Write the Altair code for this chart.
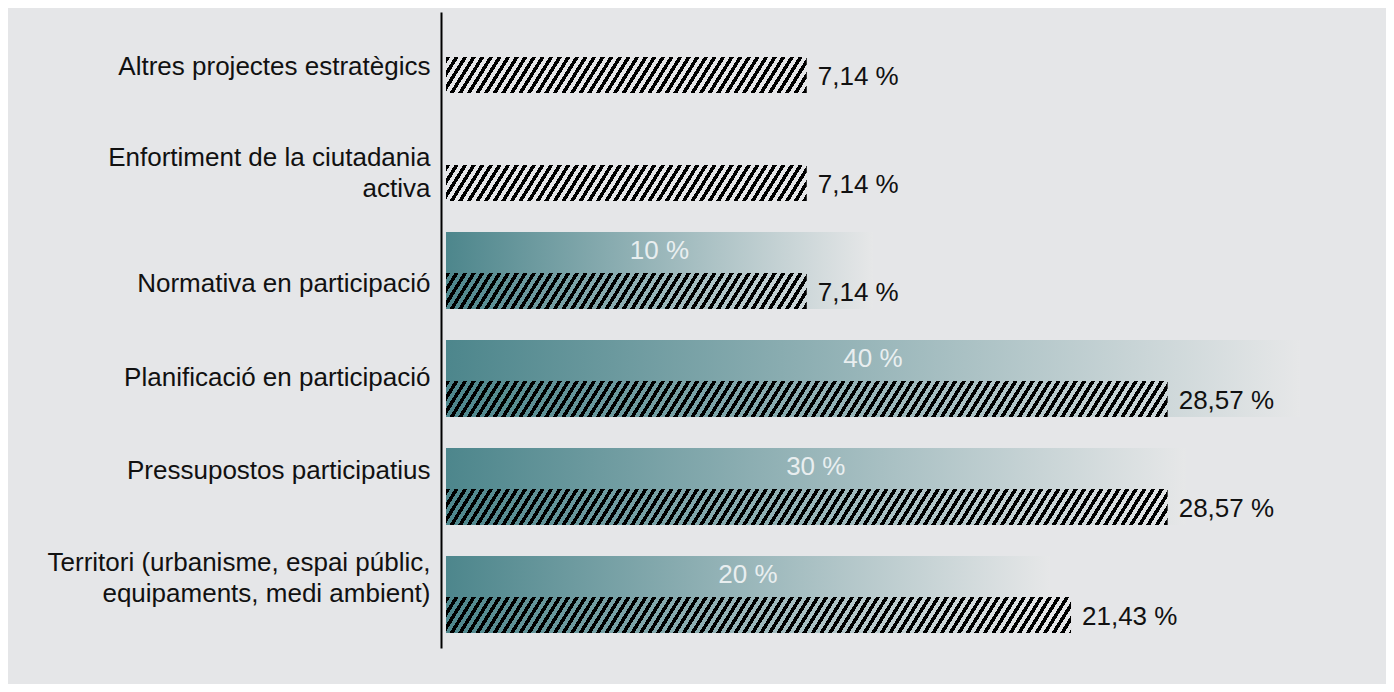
import math
import altair as alt
import pandas as pd

categories = [
    "Altres projectes estratègics",
    "Enfortiment de la ciutadania\nactiva",
    "Normativa en participació",
    "Planificació en participació",
    "Pressupostos participatius",
    "Territori (urbanisme, espai públic,\nequipaments, medi ambient)",
]
shaded = [0, 0, 10, 40, 30, 20]            # gradient series (%)
hatched = [7.14, 7.14, 7.14, 28.57, 28.57, 21.43]  # hatched series (%)

df = pd.DataFrame({"cat": categories, "g": shaded, "h": hatched})

BG = "#e5e6e8"
FONT = "Liberation Sans"
PW, PH = 875, 636
DMAX = 42
HATCH_H = 36
SLANT = 0.62     # horizontal shift per px of height
PERIOD = 8.6     # horizontal stripe period (px)
DUTY = 0.48
CLEAR = "rgba(0,0,0,0)"

xscale = alt.Scale(type="sqrt", domain=[0, DMAX], nice=False, zero=True)
yscale = alt.Scale(domain=categories, paddingInner=0.287, paddingOuter=0.088, align=0.21)

label_shift = {
    "condition": [
        {"test": "indexof(datum.value, 'Altres') === 0", "value": 13},
        {"test": "indexof(datum.value, 'Enfortiment') === 0", "value": -4},
        {"test": "indexof(datum.value, 'Normativa') === 0", "value": 14},
        {"test": "indexof(datum.value, 'Pressupostos') === 0", "value": -15},
        {"test": "indexof(datum.value, 'Territori') === 0", "value": -31},
    ],
    "value": 0,
}

Y = alt.Y("cat:N", scale=yscale, sort=categories,
          axis=alt.Axis(title=None, ticks=False, grid=False, domainColor="#000",
                        domainWidth=2, offset=5, labelPadding=11, labelFont=FONT,
                        labelFontSize=26, labelColor="#111", labelLimit=700,
                        labelLineHeight=31, labelOffset=label_shift,
                        labelExpr="split(datum.label, '\\n')"))

base = alt.Chart(df)

grad = alt.LinearGradient(
    gradient="linear", x1=0, x2=1, y1=0, y2=0,
    stops=[alt.GradientStop(offset=0, color="#4d868c"),
           alt.GradientStop(offset=1, color="#e6e7e8")])

grad_bars = base.transform_filter("datum.g > 0").mark_bar(color=grad, strokeWidth=0).encode(
    x=alt.X("g:Q", scale=xscale, axis=None), y=Y)

grad_text = base.transform_filter("datum.g > 0").transform_calculate(
    mid="datum.g / 4", lab="format(datum.g, '.0f') + ' %'"
).mark_text(font=FONT, fontSize=26, color="#f2f5f6", opacity=0.9, align="center",
            baseline="middle", dy=-19).encode(
    x=alt.X("mid:Q", scale=xscale, axis=None), y=Y, text="lab:N")


def hatch_gradient(value):
    w = PW * math.sqrt(value / DMAX)
    r = SLANT * HATCH_H / w
    dx = (1 + r) / (1 + r * r)
    dy = r * dx
    dt = PERIOD * dx / (w * (dx * dx + dy * dy))
    stops = []
    k = 0
    while k * dt < 1:
        a = k * dt
        b = min(a + DUTY * dt, 1.0)
        e = min(a + dt, 1.0)
        for off, col in ((a, "#000"), (b, "#000"), (b, CLEAR), (e, CLEAR)):
            stops.append(alt.GradientStop(offset=round(off, 6), color=col))
        k += 1
    return alt.LinearGradient(gradient="linear", x1=0, y1=0, x2=dx, y2=dy, stops=stops)


hatch_layers = []
for v in sorted(set(hatched)):
    hatch_layers.append(
        base.transform_filter(f"datum.h == {v}").mark_bar(
            color=hatch_gradient(v), height=HATCH_H, yOffset=20.5, strokeWidth=0
        ).encode(x=alt.X("h:Q", scale=xscale, axis=None), y=Y)
    )

hatch_text = base.transform_calculate(
    lab="replace(format(datum.h, '.2f'), '.', ',') + ' %'"
).mark_text(font=FONT, fontSize=26, color="#111", align="left", baseline="middle",
            dx=11, dy=23).encode(
    x=alt.X("h:Q", scale=xscale, axis=None), y=Y, text="lab:N")

chart = alt.layer(grad_bars, grad_text, *hatch_layers, hatch_text).properties(
    width=PW, height=PH,
    autosize=alt.AutoSizeParams(type="none"),
    padding={"left": 438, "top": 4, "right": 65, "bottom": 36},
    background=BG,
).configure_view(stroke=None)

chart.save("out.html", embed_options={"renderer": "svg", "actions": False})
